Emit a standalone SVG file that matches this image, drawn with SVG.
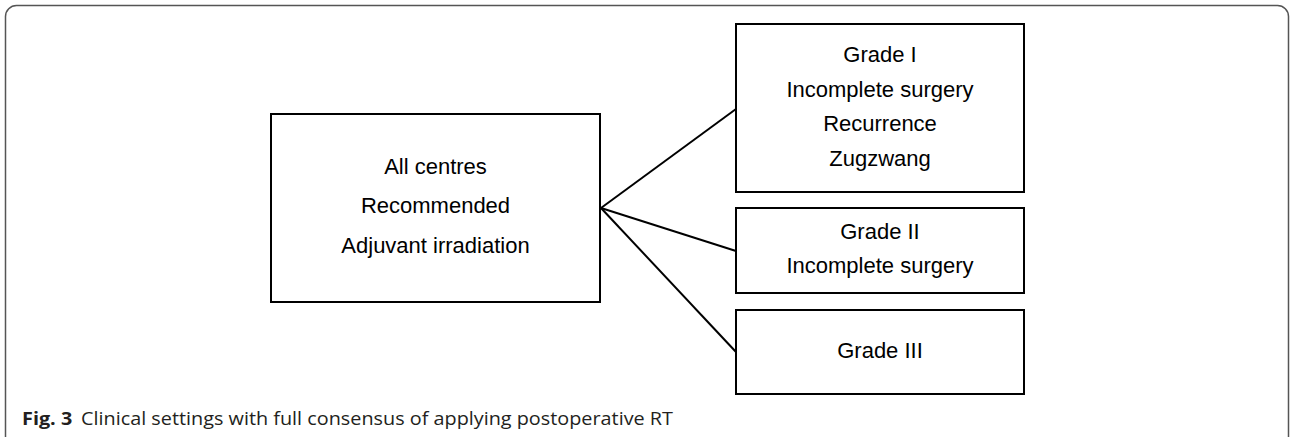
<svg xmlns="http://www.w3.org/2000/svg" width="1290" height="437" viewBox="0 0 1290 437">
<style>
.box{fill:#fff;stroke:#000;stroke-width:2}
.conn{stroke:#000;stroke-width:2;fill:none}
.t{font-family:"Liberation Sans",Arial,sans-serif;font-size:22px;fill:#000;text-anchor:middle}
.cap{font-family:"Open Sans","Noto Sans",sans-serif;font-size:18px;fill:#231f20}
</style>
<rect width="1290" height="437" fill="#fff"/>
<rect x="5.5" y="5.5" width="1283" height="460" rx="11" ry="11" fill="none" stroke="#555" stroke-width="1.5"/>
<g id="connectors">
<line class="conn" x1="601" y1="208" x2="736" y2="109"/>
<line class="conn" x1="601" y1="208" x2="736" y2="251"/>
<line class="conn" x1="601" y1="208" x2="736" y2="352"/>
</g>
<g id="node-all">
<rect class="box" x="271" y="114" width="329" height="188"/>
<text class="t" x="435.5" y="174">All centres</text>
<text class="t" x="435.5" y="213">Recommended</text>
<text class="t" x="435.5" y="253">Adjuvant irradiation</text>
</g>
<g id="node-grade1">
<rect class="box" x="736" y="24" width="288" height="168"/>
<text class="t" x="880" y="62">Grade I</text>
<text class="t" x="880" y="97">Incomplete surgery</text>
<text class="t" x="880" y="131">Recurrence</text>
<text class="t" x="880" y="166">Zugzwang</text>
</g>
<g id="node-grade2">
<rect class="box" x="736" y="208" width="288" height="85"/>
<text class="t" x="880" y="239">Grade II</text>
<text class="t" x="880" y="273">Incomplete surgery</text>
</g>
<g id="node-grade3">
<rect class="box" x="736" y="310" width="288" height="84"/>
<text class="t" x="880" y="358">Grade III</text>
</g>
<text class="cap" x="22" y="425" textLength="651" lengthAdjust="spacingAndGlyphs"><tspan font-weight="bold">Fig. 3</tspan><tspan dx="8">Clinical settings with full consensus of applying postoperative RT</tspan></text>
</svg>
